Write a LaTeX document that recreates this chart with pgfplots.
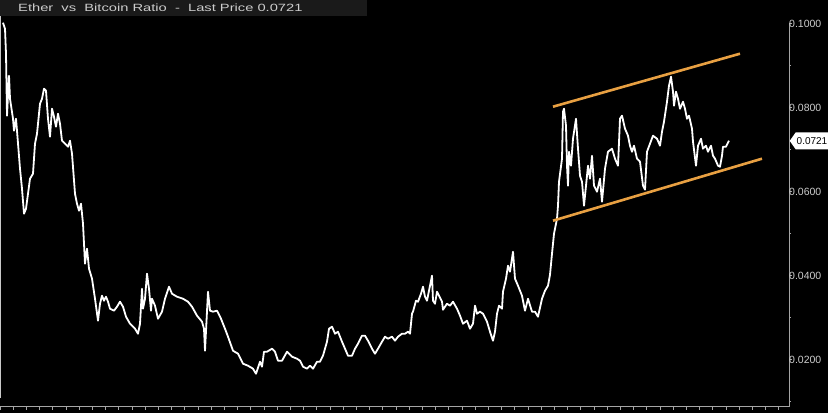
\documentclass[border=0pt]{standalone}
\usepackage{fontspec}
\setmainfont{Liberation Sans}
\usepackage{pgfplots}
\pgfplotsset{compat=1.18}
\usetikzlibrary{shapes.symbols}
\definecolor{chanorange}{RGB}{232,160,66}
\definecolor{axgray}{RGB}{165,165,165}
\definecolor{lblgray}{RGB}{205,205,205}
\definecolor{stripgray}{RGB}{26,26,26}
\begin{document}
\begin{tikzpicture}[x=1pt,y=1pt]
\path[use as bounding box] (0,0) rectangle (828,413);
\clip (0,0) rectangle (828,413);
\fill[black] (0,0) rectangle (828,413);
\fill[stripgray] (0,397) rectangle (367,413);
\node[anchor=base west, inner sep=0pt, text=lblgray, font=\fontsize{10.5}{12}\selectfont] at (18,401.5)
  {\scalebox{1.4}[1]{Ether\ \ vs\ \ Bitcoin Ratio\ \ -\ \ Last Price 0.0721}};
\draw[axgray!60, line width=0.8pt] (0.5,15) -- (0.5,397);
\begin{axis}[
  at={(0,15)}, anchor=south west,
  scale only axis, width=789pt, height=383pt,
  xmin=0, xmax=789, ymin=0.00881, ymax=0.1,
  clip=false,
  axis x line*=bottom, axis y line*=right,
  axis line style={axgray, line width=0.9pt, -},
  every tick/.style={axgray, line width=0.7pt},
  tick align=outside,
  major tick length=3pt, minor tick length=2pt,
  xtick={0,13.2,...,789}, xticklabels={},
  ytick={0.02,0.04,0.06,0.08,0.1},
  minor ytick={0.01,0.03,0.05,0.07,0.09},
  yticklabels={0.0200,0.0400,0.0600,0.0800,0.1000},
  yticklabel pos=right,
  yticklabel style={anchor=west, inner sep=0pt, xshift=-3pt, text=lblgray, font=\fontsize{10.5}{12}\selectfont},
]
\addplot[white, line width=1.8pt, line join=round] coordinates {
(3,0.10024)(5,0.09881)(6,0.09286)(7,0.07810)(9,0.08762)(10,0.08214)(13,0.07738)(14,0.07452)(16,0.07738)(17,0.07452)
(20,0.06548)(22,0.06071)(24,0.05476)(26,0.05595)(30,0.06310)(33,0.06429)(35,0.07143)(37,0.07381)(40,0.08095)(42,0.08214)
(44,0.08452)(46,0.08405)(48,0.07738)(50,0.07310)(52,0.07976)(54,0.07786)(56,0.07548)(58,0.07857)(60,0.07619)(62,0.07214)
(65,0.07143)(68,0.07071)(70,0.07214)(72,0.06905)(75,0.05952)(77,0.05714)(79,0.05548)(81,0.05714)(83,0.05238)(85,0.04286)
(87,0.04643)(89,0.04167)(92,0.03929)(95,0.03452)(98,0.02929)(100,0.03333)(102,0.03524)(104,0.03405)(106,0.03500)(108,0.03381)
(110,0.03214)(114,0.03167)(117,0.03262)(120,0.03381)(123,0.03262)(126,0.03024)(130,0.02857)(135,0.02738)(138,0.02619)(140,0.02857)
(142,0.03690)(143,0.03214)(145,0.03452)(147,0.04048)(149,0.03690)(151,0.03167)(152,0.03452)(155,0.03286)(158,0.02976)(162,0.03143)
(165,0.03452)(169,0.03738)(172,0.03571)(177,0.03500)(183,0.03452)(188,0.03381)(192,0.03262)(197,0.03048)(202,0.02905)(204,0.02738)
(205,0.02214)(208,0.03619)(210,0.03167)(213,0.03143)(217,0.03167)(221,0.02976)(225,0.02738)(228,0.02548)(233,0.02214)(238,0.02143)
(243,0.01905)(248,0.01857)(253,0.01786)(256,0.01667)(260,0.01952)(262,0.01833)(264,0.02190)(267,0.02190)(272,0.02262)(275,0.02190)
(278,0.01976)(282,0.01976)(287,0.02190)(292,0.02071)(297,0.02024)(300,0.01976)(303,0.01833)(307,0.01786)(310,0.01857)(313,0.01786)
(317,0.01952)(320,0.01952)(323,0.02095)(327,0.02429)(329,0.02738)(332,0.02786)(335,0.02619)(338,0.02667)(342,0.02429)(345,0.02262)
(348,0.02095)(352,0.02095)(355,0.02262)(358,0.02381)(362,0.02571)(365,0.02571)(368,0.02452)(372,0.02262)(375,0.02143)(378,0.02262)
(382,0.02429)(385,0.02548)(388,0.02500)(392,0.02548)(395,0.02452)(398,0.02548)(402,0.02619)(405,0.02619)(408,0.02667)(410,0.02619)
(412,0.03095)(413,0.03143)(416,0.03405)(418,0.03381)(421,0.03571)(423,0.03738)(425,0.03500)(427,0.03405)(430,0.03762)(432,0.04000)
(433,0.03405)(435,0.03333)(437,0.03619)(439,0.03524)(442,0.03381)(443,0.03190)(447,0.03333)(450,0.03286)(453,0.03381)(457,0.03214)
(460,0.03048)(463,0.02857)(467,0.02929)(470,0.02738)(473,0.02857)(475,0.03286)(477,0.03095)(480,0.03143)(483,0.03095)(487,0.02905)
(490,0.02667)(493,0.02452)(495,0.02667)(497,0.03095)(499,0.03286)(502,0.03214)(503,0.03619)(506,0.03929)(508,0.04238)(510,0.04095)
(513,0.04571)(515,0.03929)(518,0.03762)(522,0.03524)(525,0.03167)(528,0.03452)(532,0.03143)(535,0.03143)(538,0.03024)(542,0.03452)
(545,0.03643)(548,0.03762)(550,0.04024)(552,0.04524)(554,0.05000)(557,0.05357)(558,0.05667)(559,0.06238)(562,0.06786)(563,0.07905)
(564,0.07976)(566,0.07571)(567,0.06619)(568,0.06143)(569,0.06952)(571,0.06619)(573,0.07262)(576,0.07738)(578,0.07024)(580,0.06381)
(582,0.06238)(584,0.05667)(587,0.06381)(588,0.06619)(590,0.06310)(592,0.06857)(594,0.06143)(597,0.06000)(600,0.06310)(602,0.05762)
(605,0.06548)(608,0.06952)(612,0.07024)(615,0.06786)(618,0.06619)(620,0.07738)(622,0.07810)(625,0.07500)(628,0.07333)(630,0.07095)
(632,0.06952)(634,0.07095)(637,0.06786)(640,0.06714)(643,0.06143)(645,0.06048)(647,0.06952)(650,0.07143)(653,0.07333)(657,0.07262)
(660,0.07095)(662,0.07429)(664,0.07667)(667,0.08143)(669,0.08524)(671,0.08738)(673,0.08381)(674,0.08048)(676,0.08381)(678,0.08214)
(680,0.07976)(683,0.08143)(685,0.07976)(687,0.07738)(689,0.07810)(692,0.07500)(693,0.07190)(696,0.06619)(698,0.07095)(701,0.07262)
(703,0.07024)(706,0.07095)(708,0.06952)(711,0.07095)(713,0.06857)(715,0.06786)(718,0.06619)(720,0.06595)(722,0.06857)(723,0.07071)
(726,0.07071)(729,0.07214)
};
\addplot[chanorange, line width=2.6pt] coordinates {(553,0.08024)(740,0.09286)};
\addplot[chanorange, line width=2.6pt] coordinates {(553,0.05310)(762,0.06786)};
\node[signal, signal to=west, signal pointer angle=110, fill=white, draw=none, inner xsep=1pt, inner ysep=2pt,
  anchor=west, font=\fontsize{10}{11}\selectfont, text=black, minimum height=17pt]
  at (axis cs:789.5,0.0721) {0.0721};
\end{axis}
\end{tikzpicture}
\end{document}
